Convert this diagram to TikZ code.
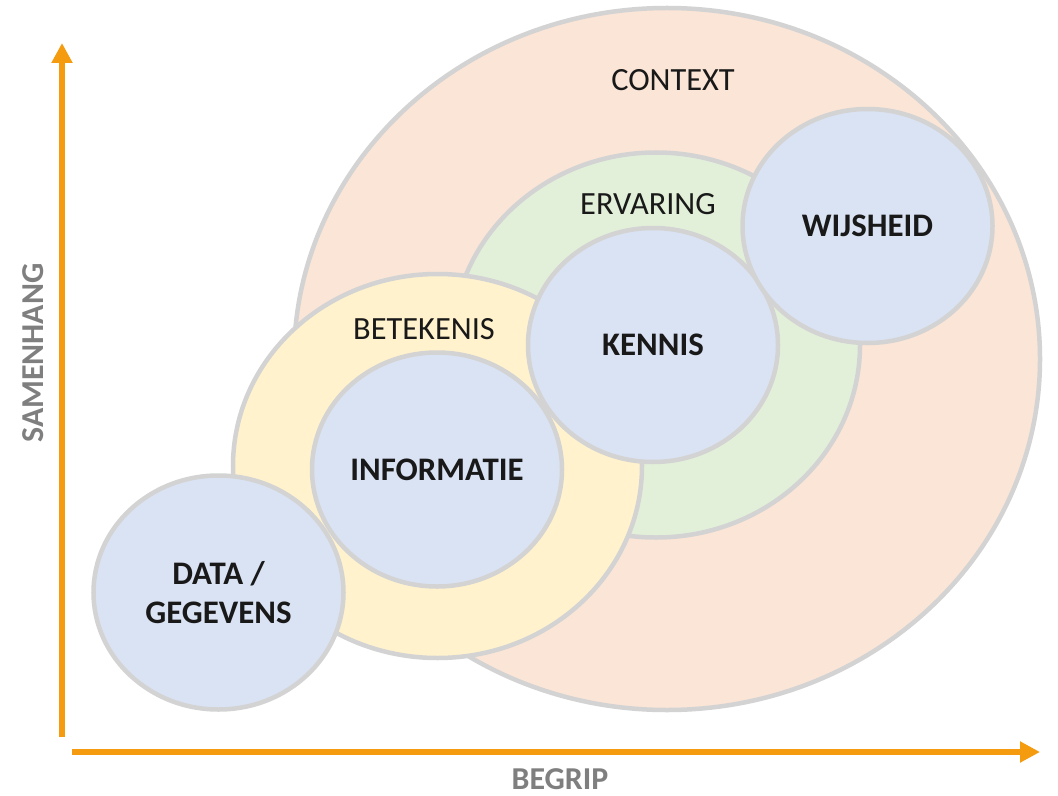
\documentclass[tikz,border=0pt]{standalone}
\usepackage{fontspec}
\setmainfont{Carlito}
\usetikzlibrary{shapes.geometric,arrows.meta}
\definecolor{rim}{HTML}{D3D3D3}
\definecolor{peach}{HTML}{FBE5D6}
\definecolor{sage}{HTML}{E2F0D9}
\definecolor{butter}{HTML}{FFF2CC}
\definecolor{sky}{HTML}{DAE3F3}
\definecolor{axisorange}{HTML}{F59B10}
\definecolor{axisgray}{HTML}{7F7F7F}
\tikzset{
  blob/.style={ellipse, draw=rim, line width=4.5bp, inner sep=0pt},
  core/.style={blob, fill=sky, minimum width=250bp, minimum height=234bp,
    font=\fontsize{33}{40}\selectfont\bfseries, align=center, text=black!90},
  ringlabel/.style={font=\fontsize{32.5}{38}\selectfont, text=black!90},
  axis/.style={line width=6bp, draw=axisorange, -{Triangle[length=20bp,width=20bp]}},
  axislabel/.style={text=axisgray, font=\fontsize{32}{38}\selectfont\bfseries}
}
\begin{document}
\begin{tikzpicture}[x=1bp,y=-1bp]
\useasboundingbox[fill=white] (0,0) rectangle (1058,796);
% rings
\node[blob, fill=peach, minimum width=746bp, minimum height=702bp] (context) at (667,359) {};
\node[blob, fill=sage, minimum width=408bp, minimum height=385bp] (ervaring) at (656,345) {};
\node[blob, fill=butter, minimum width=409bp, minimum height=384bp] (betekenis) at (437.5,466) {};
\node[ringlabel] (contextlbl) at (673,80) {CONTEXT};
\node[ringlabel] (ervaringlbl) at (648,204) {ERVARING};
\node[ringlabel] (betekenislbl) at (424,329) {BETEKENIS};
% cores
\node[core] (kennis) at (653,345) {KENNIS};
\node[core] (informatie) at (437,469.5) {INFORMATIE};
\node[core] (data) at (218.5,592.5) {DATA /\\GEGEVENS};
\node[core] (wijsheid) at (867.5,226) {WIJSHEID};
% axes
\coordinate (ybase) at (62,737);
\coordinate (ytip) at (62,43);
\coordinate (xbase) at (72,752);
\coordinate (xtip) at (1040,752);
\draw[axis] (ybase)--(ytip);
\draw[axis] (xbase)--(xtip);
\node[axislabel, rotate=90] (samenhang) at (33,353) {SAMENHANG};
\node[axislabel] (begrip) at (560,779) {BEGRIP};
\end{tikzpicture}
\end{document}
